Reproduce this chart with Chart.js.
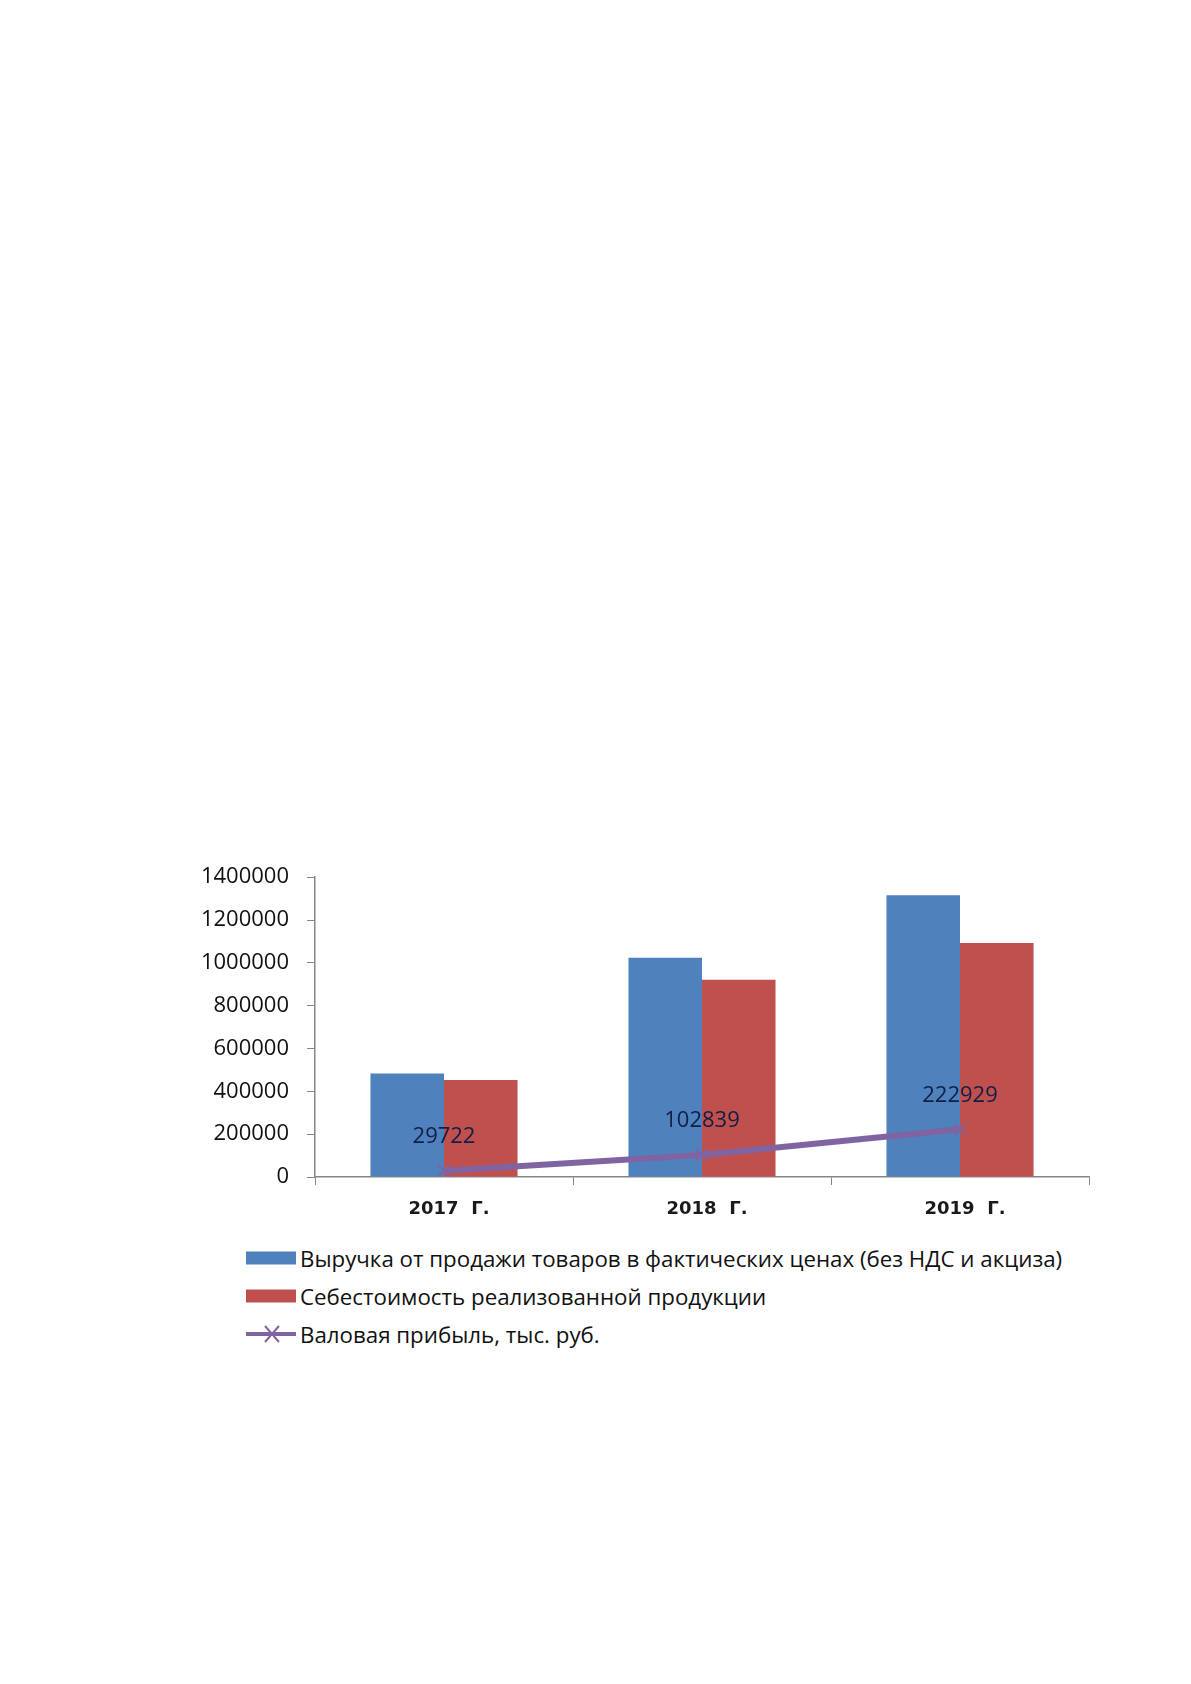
<!DOCTYPE html>
<html lang="ru">
<head>
<meta charset="utf-8">
<script src="https://cdn.jsdelivr.net/npm/chart.js@4.4.1/dist/chart.umd.min.js"></script>
<style>
  html, body { margin: 0; padding: 0; background: #fff; }
  body { width: 1191px; height: 1684px; position: relative; overflow: hidden; }
  #wrap { position: absolute; left: 0; top: 846px; width: 1191px; height: 391px; }
  #legend { position: absolute; left: 246px; top: 1239px; font-family: 'Open Sans', sans-serif; font-size: 22.3px; color: #111; }
  .item { height: 38px; display: flex; align-items: center; white-space: nowrap; }
  .item svg { margin-right: 4px; flex: none; }
</style>
</head>
<body>
<div id="wrap"><canvas id="chart"></canvas></div>
<div id="legend"></div>
<script>
const years = ['2017  Г.', '2018  Г.', '2019  Г.'];
const revenue = [483000, 1024000, 1316000];
const cost = [453278, 921161, 1093071];
const grossProfit = [29722, 102839, 222929];
const seriesNames = [
  'Выручка от продажи товаров в фактических ценах (без НДС и акциза)',
  'Себестоимость реализованной продукции',
  'Валовая прибыль, тыс. руб.'
];
const yTicks = [0, 200000, 400000, 600000, 800000, 1000000, 1200000, 1400000];

const BLUE = '#4F81BD', RED = '#C0504D', PURPLE = '#8064A2';

// labels above the line points
const pointLabels = {
  id: 'pointLabels',
  afterDatasetsDraw(chart) {
    const ctx = chart.ctx;
    const meta = chart.getDatasetMeta(2);
    ctx.save();
    ctx.font = '22px "Open Sans", sans-serif';
    ctx.fillStyle = '#0f1f45';
    ctx.textAlign = 'center';
    ctx.textBaseline = 'middle';
    meta.data.forEach((pt, i) => {
      ctx.fillText(String(chart.data.datasets[2].data[i]), pt.x, pt.y - 34);
    });
    ctx.restore();
  }
};

const chart = new Chart(document.getElementById('chart'), {
  data: {
    labels: years,
    datasets: [
      { type: 'bar', label: seriesNames[0], data: revenue, backgroundColor: BLUE,
        categoryPercentage: 0.57, barPercentage: 1, order: 2 },
      { type: 'bar', label: seriesNames[1], data: cost, backgroundColor: RED,
        categoryPercentage: 0.57, barPercentage: 1, order: 2 },
      { type: 'line', label: seriesNames[2], data: grossProfit, borderColor: PURPLE,
        backgroundColor: PURPLE, borderWidth: 6, pointStyle: 'crossRot', pointRadius: 8,
        pointBorderWidth: 2, pointBorderColor: PURPLE, tension: 0, clip: false, order: 1 }
    ]
  },
  options: {
    responsive: true,
    maintainAspectRatio: false,
    animation: false,
    layout: { padding: { top: 30, right: 102, bottom: 0, left: 0 } },
    plugins: { legend: { display: false }, tooltip: { enabled: false } },
    scales: {
      x: {
        offset: true,
        grid: { offset: true, drawOnChartArea: false, drawTicks: true, tickLength: 8, color: '#868686' },
        border: { color: '#868686', width: 1.5 },
        ticks: { padding: 14, labelOffset: 5, color: '#1a1a1a',
          font: { family: '"DejaVu Sans", sans-serif', size: 18, weight: 'bold' } },
        afterFit(scale) { scale.height = 60; }
      },
      y: {
        min: 0, max: 1400000,
        afterBuildTicks(scale) { scale.ticks = yTicks.map(v => ({ value: v })); },
        grid: { drawOnChartArea: false, tickLength: 8, color: '#868686' },
        border: { color: '#868686', width: 1.5 },
        ticks: { padding: 18, color: '#111', callback: v => String(v),
          font: { family: '"Open Sans", sans-serif', size: 22 } },
        afterFit(scale) { scale.width = 315; }
      }
    }
  },
  plugins: [pointLabels]
});

// legend built from the chart's datasets
const legend = document.getElementById('legend');
chart.data.datasets.forEach(ds => {
  const row = document.createElement('div');
  row.className = 'item';
  let icon;
  if (ds.type === 'bar') {
    icon = `<svg width="50" height="14"><rect x="0" y="0.5" width="50" height="13" fill="${ds.backgroundColor}"/></svg>`;
  } else {
    icon = `<svg width="50" height="22"><line x1="0" y1="11" x2="50" y2="11" stroke="${ds.borderColor}" stroke-width="4"/>` +
      `<path d="M19 3 L33 19 M33 3 L19 19" stroke="${ds.borderColor}" stroke-width="2"/></svg>`;
  }
  row.innerHTML = icon + '<span></span>';
  row.querySelector('span').textContent = ds.label;
  legend.appendChild(row);
});
</script>
</body>
</html>
